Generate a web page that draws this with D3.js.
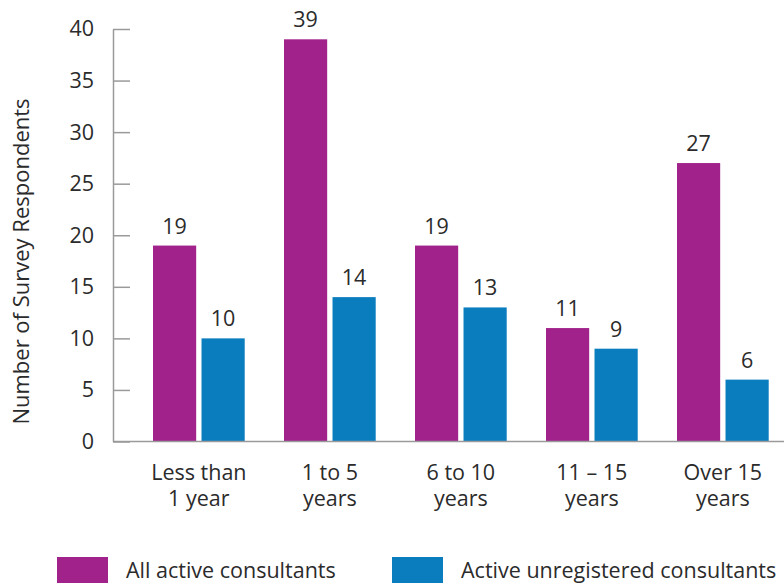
<!DOCTYPE html>
<html>
<head>
<meta charset="utf-8">
<script src="https://cdn.jsdelivr.net/npm/d3@7"></script>
<style>
  html, body { margin: 0; padding: 0; background: #fff; }
  svg text { font-family: "Open Sans", "DejaVu Sans", sans-serif; fill: #2b2b2b; }
</style>
</head>
<body>
<svg id="chart" width="784" height="587"></svg>
<script>
// Years of experience groups (two-line labels)
const categories = ["Less than 1 year", "1 to 5 years", "6 to 10 years", "11 – 15 years", "Over 15 years"];
const categoryLines = [["Less than", "1 year"], ["1 to 5", "years"], ["6 to 10", "years"], ["11 – 15", "years"], ["Over 15", "years"]];
const seriesNames = ["All active consultants", "Active unregistered consultants"];
const allActive = [19, 39, 19, 11, 27];
const unregistered = [10, 14, 13, 9, 6];
const yTicks = [0, 5, 10, 15, 20, 25, 30, 35, 40];
const colors = ["#a0228a", "#0a7dbf"];

const svg = d3.select("#chart");
const axisX = 113, yTop = 29, yBottom = 441.5;
const fs = "21.5px";

const y = d3.scaleLinear().domain([0, 40]).range([yBottom, yTop]);
const x0 = d3.scaleBand().domain(categories).range([133.35, 788.35])
  .paddingInner(0.3).paddingOuter(0.15);
const x1 = d3.scaleBand().domain(seriesNames).range([0, x0.bandwidth()]).paddingInner(0.11);
const color = d3.scaleOrdinal().domain(seriesNames).range(colors);

const rows = categories.map((c, i) => ({ cat: c, values: [allActive[i], unregistered[i]] }));

// Bars
const groups = svg.append("g").selectAll("g").data(rows).join("g")
  .attr("transform", d => `translate(${x0(d.cat)},0)`);
groups.selectAll("rect").data(d => d.values.map((v, j) => ({ key: seriesNames[j], v })))
  .join("rect")
  .attr("x", d => x1(d.key))
  .attr("y", d => y(d.v))
  .attr("width", x1.bandwidth())
  .attr("height", d => y(0) - y(d.v))
  .attr("fill", d => color(d.key));

// Value labels
groups.selectAll("text.val").data(d => d.values.map((v, j) => ({ key: seriesNames[j], v })))
  .join("text").attr("class", "val")
  .attr("x", d => x1(d.key) + x1.bandwidth() / 2)
  .attr("y", d => y(d.v) - 12)
  .attr("text-anchor", "middle")
  .style("font-size", fs)
  .text(d => d.v);

// Y axis with inward ticks
const yAxis = d3.axisLeft(y).tickValues(yTicks).tickSizeInner(-17).tickSizeOuter(0).tickPadding(19);
const gy = svg.append("g").attr("transform", `translate(${axisX},0)`).call(yAxis);
gy.selectAll("path, line").attr("stroke", "#9a9a9a").attr("stroke-width", 1.5);
gy.selectAll("text").style("font-size", fs).attr("fill", "#2b2b2b")
  .style("font-family", "'Open Sans', sans-serif");

// Baseline
svg.append("line").attr("x1", axisX).attr("x2", 784).attr("y1", y(0)).attr("y2", y(0))
  .attr("stroke", "#9a9a9a").attr("stroke-width", 1.5);

// Category labels
const catG = svg.append("g").selectAll("text").data(categories).join("text")
  .attr("text-anchor", "middle")
  .attr("x", d => x0(d) + x0.bandwidth() / 2)
  .attr("y", 480)
  .style("font-size", fs);
catG.selectAll("tspan").data((d, i) => categoryLines[i]).join("tspan")
  .attr("x", function() { return this.parentNode.getAttribute("x"); })
  .attr("dy", (d, i) => i === 0 ? 0 : 26)
  .text(d => d);

// Y axis title
svg.append("text")
  .attr("transform", `translate(29,${(95 + 428) / 2}) rotate(-90)`)
  .attr("text-anchor", "middle")
  .style("font-size", "22px")
  .text("Number of Survey Respondents");

// Legend
const legendX = [57, 392];
const legend = svg.append("g").selectAll("g").data(seriesNames).join("g")
  .attr("transform", (d, i) => `translate(${legendX[i]},557)`);
legend.append("rect").attr("width", 51).attr("height", 26).attr("fill", d => color(d));
legend.append("text").attr("x", 69).attr("y", 21).style("font-size", fs).text(d => d);
</script>
</body>
</html>
